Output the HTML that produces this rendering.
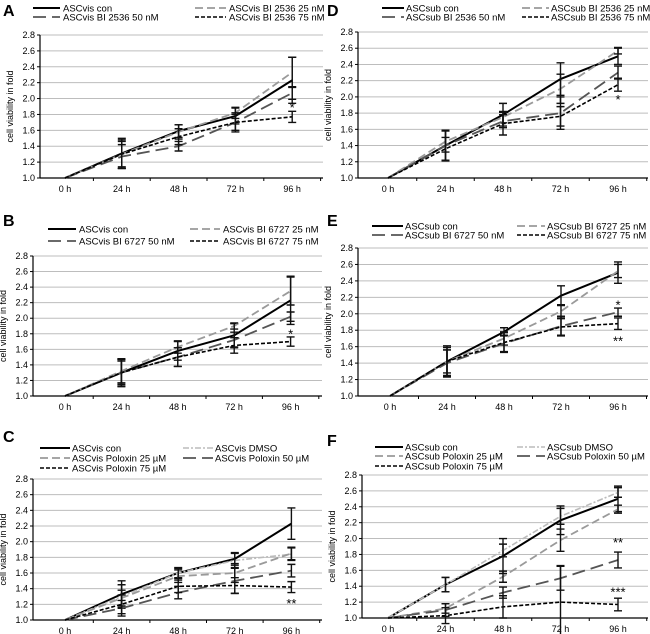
<!DOCTYPE html>
<html><head><meta charset="utf-8"><style>
body{margin:0;background:#fff;width:650px;height:634px;overflow:hidden}
svg{display:block;font-family:"Liberation Sans",sans-serif}
</style></head><body>
<svg id="c" width="650" height="634"></svg>
<script>
const categories=["0 h","24 h","48 h","72 h","96 h"];
const yTicks=[1.0,1.2,1.4,1.6,1.8,2.0,2.2,2.4,2.6,2.8];
// Panel A
const aCon=[1,1.31,1.59,1.78,2.23], aConErr=[0,0.19,0.08,0.1,0.29];
const a25=[1,1.3,1.58,1.82,2.33], a25Err=[0,0.16,0.09,0.07,0.19];
const a50=[1,1.27,1.4,1.7,2.07], a50Err=[0,0.15,0.06,0.1,0.08];
const a75=[1,1.3,1.52,1.7,1.77], a75Err=[0,0.18,0.1,0.12,0.07];
// Panel B
const bCon=[1,1.3,1.58,1.78,2.23], bConErr=[0,0.17,0.12,0.15,0.31];
const b25=[1,1.32,1.63,1.9,2.35], b25Err=[0,0.15,0.08,0.04,0.18];
const b50=[1,1.3,1.5,1.72,2.02], b50Err=[0,0.15,0.12,0.1,0.06];
const b75=[1,1.3,1.5,1.65,1.7], b75Err=[0,0.18,0.12,0.1,0.06];
// Panel C
const cCon=[1,1.33,1.6,1.78,2.23], cConErr=[0,0.17,0.07,0.08,0.2];
const cDmso=[1,1.3,1.6,1.76,1.84], cDmsoErr=[0,0.15,0.06,0.09,0.08];
const c25=[1,1.28,1.56,1.6,1.85], c25Err=[0,0.1,0.08,0.12,0.08];
const c50=[1,1.15,1.35,1.5,1.63], c50Err=[0,0.1,0.08,0.16,0.08];
const c75=[1,1.2,1.43,1.44,1.42], c75Err=[0,0.12,0.08,0.1,0.07];
// Panel D
const dCon=[1,1.4,1.78,2.22,2.5], dConErr=[0,0.19,0.14,0.2,0.1];
const d25=[1,1.45,1.75,2.1,2.57], d25Err=[0,0.13,0.07,0.18,0.04];
const d50=[1,1.4,1.7,1.8,2.3], d50Err=[0,0.18,0.08,0.2,0.08];
const d75=[1,1.36,1.67,1.76,2.15], d75Err=[0,0.14,0.14,0.12,0.08];
// Panel E
const eCon=[1,1.42,1.78,2.22,2.5], eConErr=[0,0.19,0.05,0.12,0.13];
const e25=[1,1.42,1.7,2.03,2.52], e25Err=[0,0.14,0.08,0.08,0.08];
const e50=[1,1.4,1.64,1.85,2.02], e50Err=[0,0.16,0.1,0.12,0.05];
const e75=[1,1.42,1.65,1.84,1.88], e75Err=[0,0.17,0.12,0.1,0.07];
// Panel F
const fCon=[1,1.42,1.78,2.23,2.5], fConErr=[0,0.09,0.22,0.18,0.16];
const fDmso=[1,1.42,1.85,2.28,2.58], fDmsoErr=[0,0.09,0.08,0.1,0.06];
const f25=[1,1.12,1.52,1.98,2.37], f25Err=[0,0.06,0.07,0.14,0.05];
const f50=[1,1.1,1.32,1.5,1.73], f50Err=[0,0.08,0.07,0.15,0.1];
const f75=[1,1.03,1.14,1.2,1.17], f75Err=[0,0.1,0.14,0.46,0.08];

const ST={con:{c:"#000",w:2,d:""},d25:{c:"#9a9a9a",w:1.8,d:"8,4"},d50:{c:"#555",w:1.8,d:"13,6"},d75:{c:"#000",w:1.6,d:"4,2"},dmso:{c:"#bbb",w:1.6,d:"6,2,2,2"}};
const panels=[
 {id:"A",lx:3,ly:2,ax:40,right:323,top:35,bot:178,x0:65,dx:56.8,
  series:[["ASCvis con","con",aCon,aConErr],["ASCvis BI 2536 25 nM","d25",a25,a25Err],["ASCvis BI 2536 50 nM","d50",a50,a50Err],["ASCvis BI 2536 75 nM","d75",a75,a75Err]],
  leg:{rows:[8,17],L:[33,60,63],R:[195,226,229]},stars:[["*",1.92]]},
 {id:"B",lx:3,ly:212,ax:33,right:322,top:256,bot:396,x0:65,dx:56.4,
  series:[["ASCvis con","con",bCon,bConErr],["ASCvis BI 6727 25 nM","d25",b25,b25Err],["ASCvis BI 6727 50 nM","d50",b50,b50Err],["ASCvis BI 6727 75 nM","d75",b75,b75Err]],
  leg:{rows:[229,241],L:[48,76,79],R:[190,220,223]},stars:[["*",1.83]]},
 {id:"C",lx:3,ly:428,ax:33,right:322,top:479,bot:620,x0:65,dx:56.6,
  series:[["ASCvis con","con",cCon,cConErr],["ASCvis DMSO","dmso",cDmso,cDmsoErr],["ASCvis Poloxin 25 µM","d25",c25,c25Err],["ASCvis Poloxin 50 µM","d50",c50,c50Err],["ASCvis Poloxin 75 µM","d75",c75,c75Err]],
  leg:{rows:[448,458,468],L:[40,70,72],R:[183,213,215]},stars:[["**",1.24]]},
 {id:"D",lx:327,ly:2,ax:358,right:648,top:32,bot:178,x0:388,dx:57.5,
  series:[["ASCsub con","con",dCon,dConErr],["ASCsub BI 2536 25 nM","d25",d25,d25Err],["ASCsub BI 2536 50 nM","d50",d50,d50Err],["ASCsub BI 2536 75 nM","d75",d75,d75Err]],
  leg:{rows:[8,17],L:[382,404,406],R:[522,549,551]},stars:[["*",2.0]]},
 {id:"E",lx:327,ly:212,ax:358,right:648,top:248,bot:396,x0:390,dx:57,
  series:[["ASCsub con","con",eCon,eConErr],["ASCsub BI 6727 25 nM","d25",e25,e25Err],["ASCsub BI 6727 50 nM","d50",e50,e50Err],["ASCsub BI 6727 75 nM","d75",e75,e75Err]],
  leg:{rows:[226,235],L:[372,403,405],R:[517,545,547]},stars:[["*",2.14],["**",1.7]]},
 {id:"F",lx:327,ly:432,ax:362,right:648,top:475,bot:618,x0:388,dx:57.5,
  series:[["ASCsub con","con",fCon,fConErr],["ASCsub DMSO","dmso",fDmso,fDmsoErr],["ASCsub Poloxin 25 µM","d25",f25,f25Err],["ASCsub Poloxin 50 µM","d50",f50,f50Err],["ASCsub Poloxin 75 µM","d75",f75,f75Err]],
  leg:{rows:[447,456,466],L:[375,403,405],R:[517,545,547]},stars:[["**",1.98],["***",1.36]]}
];
const NS="http://www.w3.org/2000/svg", svg=document.getElementById("c");
function mk(t,a,p,txt){const e=document.createElementNS(NS,t);for(const k in a)e.setAttribute(k,a[k]);if(txt!==undefined)e.textContent=txt;(p||svg).appendChild(e);return e;}
panels.forEach(P=>{
 const g=mk("g",{});
 
 
 const y=v=>P.bot-(v-1)/1.8*(P.bot-P.top);
 const x=i=>P.x0+i*P.dx;
 const lt=mk("text",{x:P.lx,y:P.ly+14,"font-size":16,"font-weight":"bold"},g,P.id);
 
 
 yTicks.forEach(t=>{
  if(t>1){const gl=mk("line",{x1:P.ax,x2:P.right,y1:y(t),y2:y(t),stroke:"#bdbdbd","stroke-width":1},g);
   }
  mk("line",{x1:P.ax-3,x2:P.ax,y1:y(t),y2:y(t),stroke:"#000"},g);
  const tl=mk("text",{x:P.ax-5,y:y(t)+3,"font-size":9,"text-anchor":"end"},g,t.toFixed(1));
  
 });
 const yt=mk("text",{transform:`translate(${P.ax-27},${(P.top+P.bot)/2}) rotate(-90)`,"font-size":9,"text-anchor":"middle"},g,"cell viability in fold");
 
 mk("line",{x1:P.ax,x2:P.ax,y1:P.top,y2:P.bot,stroke:"#000","stroke-width":1.2},g);
 mk("line",{x1:P.ax,x2:P.right,y1:P.bot,y2:P.bot,stroke:"#000","stroke-width":1.2},g);
 categories.forEach((c,i)=>{
  mk("line",{x1:x(i)+P.dx/2,x2:x(i)+P.dx/2,y1:P.bot,y2:P.bot+3,stroke:"#000"},g);
  const xl=mk("text",{x:x(i),y:P.bot+14,"font-size":9,"text-anchor":"middle"},g,c);
  
 });
 P.series.forEach((s,si)=>{
  const st=ST[s[1]];
  const pl=mk("polyline",{points:s[2].map((v,i)=>x(i)+","+y(v)).join(" "),fill:"none",stroke:st.c,"stroke-width":st.w,"stroke-dasharray":st.d},g);
  
  s[2].forEach((v,i)=>{const e=s[3][i];if(!e)return;const xx=x(i);
   const eb=mk("path",{d:`M${xx},${y(v-e)}V${y(v+e)}M${xx-4},${y(v-e)}H${xx+4}M${xx-4},${y(v+e)}H${xx+4}`,stroke:"#111","stroke-width":1.4,fill:"none"},g);
   });
  const row=Math.floor(si/2), side=si%2?P.leg.R:P.leg.L, ry=P.leg.rows[row];
  mk("line",{x1:side[0],x2:side[1],y1:ry,y2:ry,stroke:st.c,"stroke-width":st.w,"stroke-dasharray":st.d},g);
  const lg=mk("text",{x:side[2],y:ry+3.5,"font-size":9.5},g,s[0]);
  
 });
 P.stars.forEach(s=>{const t=mk("text",{x:x(4),y:y(s[1])+7,"font-size":13,"text-anchor":"middle"},g,s[0]);
  });
});
</script>
</body></html>
